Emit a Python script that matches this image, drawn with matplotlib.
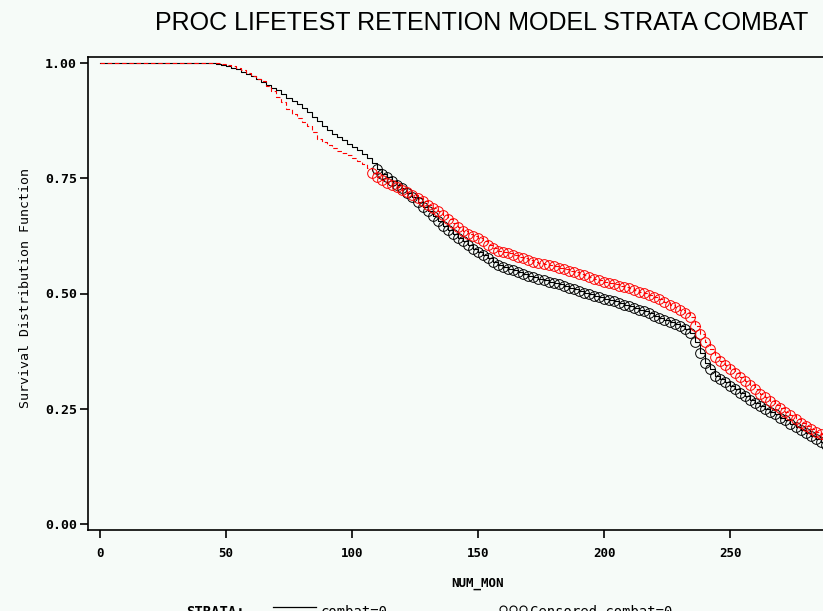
import matplotlib
matplotlib.use("Agg")
import matplotlib.pyplot as plt
from matplotlib.lines import Line2D

# Data: Kaplan-Meier estimates (months, survival)
months = [0] + list(range(40, 290, 2))

surv_combat0 = [
    1.000,
    1.000, 1.000, 0.999, 0.997, 0.995, 0.993, 0.990, 0.986, 0.981, 0.977,
    0.972, 0.966, 0.959, 0.952, 0.946, 0.941, 0.932, 0.924, 0.917, 0.910,
    0.903, 0.893, 0.883, 0.874, 0.863, 0.855, 0.846, 0.839, 0.832, 0.825,
    0.818, 0.811, 0.803, 0.795, 0.782, 0.770, 0.760, 0.752, 0.744, 0.736,
    0.728, 0.719, 0.709, 0.698, 0.688, 0.678, 0.668, 0.657, 0.646, 0.637,
    0.629, 0.621, 0.613, 0.605, 0.597, 0.590, 0.583, 0.576, 0.569, 0.562,
    0.557, 0.554, 0.550, 0.546, 0.542, 0.538, 0.535, 0.532, 0.529, 0.526,
    0.523, 0.520, 0.516, 0.513, 0.509, 0.506, 0.502, 0.499, 0.495, 0.492,
    0.489, 0.486, 0.483, 0.479, 0.476, 0.473, 0.469, 0.465, 0.461, 0.457,
    0.452, 0.447, 0.443, 0.439, 0.434, 0.429, 0.422, 0.414, 0.395, 0.370,
    0.350, 0.336, 0.322, 0.315, 0.307, 0.300, 0.292, 0.285, 0.278, 0.270,
    0.263, 0.257, 0.250, 0.244, 0.238, 0.231, 0.225, 0.218, 0.211, 0.204,
    0.198, 0.191, 0.185, 0.178, 0.172,
]

surv_combat1 = [
    1.000,
    1.000, 1.000, 1.000, 1.000, 0.998, 0.996, 0.993, 0.989, 0.985, 0.979,
    0.972, 0.966, 0.960, 0.951, 0.940, 0.926, 0.916, 0.900, 0.889, 0.880,
    0.872, 0.864, 0.850, 0.835, 0.828, 0.822, 0.816, 0.810, 0.805, 0.800,
    0.794, 0.788, 0.781, 0.772, 0.762, 0.752, 0.746, 0.740, 0.735, 0.730,
    0.725, 0.720, 0.714, 0.708, 0.701, 0.692, 0.685, 0.678, 0.670, 0.661,
    0.653, 0.645, 0.636, 0.628, 0.624, 0.620, 0.613, 0.605, 0.598, 0.592,
    0.590, 0.587, 0.584, 0.580, 0.576, 0.572, 0.568, 0.566, 0.564, 0.561,
    0.559, 0.556, 0.553, 0.549, 0.546, 0.543, 0.540, 0.536, 0.532, 0.529,
    0.526, 0.523, 0.520, 0.517, 0.514, 0.511, 0.508, 0.504, 0.501, 0.497,
    0.493, 0.488, 0.482, 0.476, 0.470, 0.465, 0.458, 0.449, 0.430, 0.412,
    0.394, 0.380, 0.362, 0.353, 0.344, 0.337, 0.328, 0.319, 0.310, 0.301,
    0.292, 0.283, 0.275, 0.266, 0.258, 0.251, 0.243, 0.236, 0.228, 0.220,
    0.212, 0.206, 0.200, 0.195, 0.190,
]

# first month with censored observations drawn for each stratum
censor_from_0 = 110
censor_from_1 = 108

x_ticks = [0, 50, 100, 150, 200, 250]
y_ticks = [0.00, 0.25, 0.50, 0.75, 1.00]

BG = '#f6fbf8'
W, H = 823, 611
MONO = 'DejaVu Sans Mono'


def fx(px):
    return px / W


def fy(py):
    return 1 - py / H


fig = plt.figure(figsize=(W / 100, H / 100), dpi=100, facecolor=BG)
# frame runs past the right edge of the picture, as in the reference
ax = fig.add_axes([fx(88), fy(530), (850 - 88) / W, (530 - 57) / H])
ax.set_facecolor(BG)

# survival curves
ax.step(months, surv_combat0, where='post', color='black', lw=0.8, zorder=3)
ax.step(months, surv_combat1, where='post', color='red', lw=0.8,
        linestyle=(0, (4, 2.5)), zorder=4)

# censored observations (open circles)
c0 = [(m, s) for m, s in zip(months, surv_combat0) if m >= censor_from_0]
c1 = [(m, s) for m, s in zip(months, surv_combat1) if m >= censor_from_1]
ax.plot([m for m, s in c0], [s for m, s in c0], linestyle='none', marker='o',
        markersize=7, markerfacecolor='none', markeredgecolor='black',
        markeredgewidth=0.7, zorder=5)
ax.plot([m for m, s in c1], [s for m, s in c1], linestyle='none', marker='o',
        markersize=7, markerfacecolor='none', markeredgecolor='red',
        markeredgewidth=0.7, zorder=6)

# axes
x_lo = (88 - 100) / 2.52
x_hi = (850 - 100) / 2.52
ax.set_xlim(x_lo, x_hi)
ax.set_ylim((524 - 530) / 461, (524 - 57) / 461)

ax.set_xticks(x_ticks)
ax.set_xticklabels([str(v) for v in x_ticks], fontfamily=MONO,
                   fontweight='bold', fontsize=9)
ax.set_yticks(y_ticks)
ax.set_yticklabels([f'{v:.2f}' for v in y_ticks], fontfamily=MONO,
                   fontweight='bold', fontsize=9.5)
ax.tick_params(axis='x', direction='out', length=6, width=1.2, pad=6)
ax.tick_params(axis='y', direction='out', length=6, width=1.2, pad=2)

for side in ['left', 'bottom', 'top', 'right']:
    ax.spines[side].set_linewidth(1.2)
    ax.spines[side].set_color('black')

# labels and title
fig.text(fx(26), fy(288), 'Survival Distribution Function', rotation=90,
         ha='center', va='center', fontfamily=MONO, fontsize=9.5)
fig.text(fx(478), fy(584), 'NUM_MON', ha='center', va='center',
         fontfamily=MONO, fontweight='bold', fontsize=9)
fig.text(fx(482), fy(23), 'PROC LIFETEST RETENTION MODEL STRATA COMBAT',
         ha='center', va='center', fontfamily='Liberation Sans', fontsize=18)

# legend row, cut off by the bottom of the picture
leg_y = 605
fig.text(fx(186), fy(leg_y), 'STRATA:', ha='left', va='top',
         fontfamily=MONO, fontweight='bold', fontsize=10)
fig.add_artist(Line2D([fx(273), fx(316)], [fy(leg_y + 2), fy(leg_y + 2)],
                      color='black', lw=0.9))
fig.text(fx(321), fy(leg_y), 'combat=0', ha='left', va='top',
         fontfamily=MONO, fontsize=10)
fig.add_artist(Line2D([fx(503), fx(513), fx(523)], [fy(leg_y + 4)] * 3,
                      linestyle='none', marker='o', markersize=5,
                      markerfacecolor='none', markeredgecolor='black',
                      markeredgewidth=0.8))
fig.text(fx(530), fy(leg_y), 'Censored combat=0', ha='left', va='top',
         fontfamily=MONO, fontsize=10)

fig.savefig('out.png', dpi=100, facecolor=BG)
